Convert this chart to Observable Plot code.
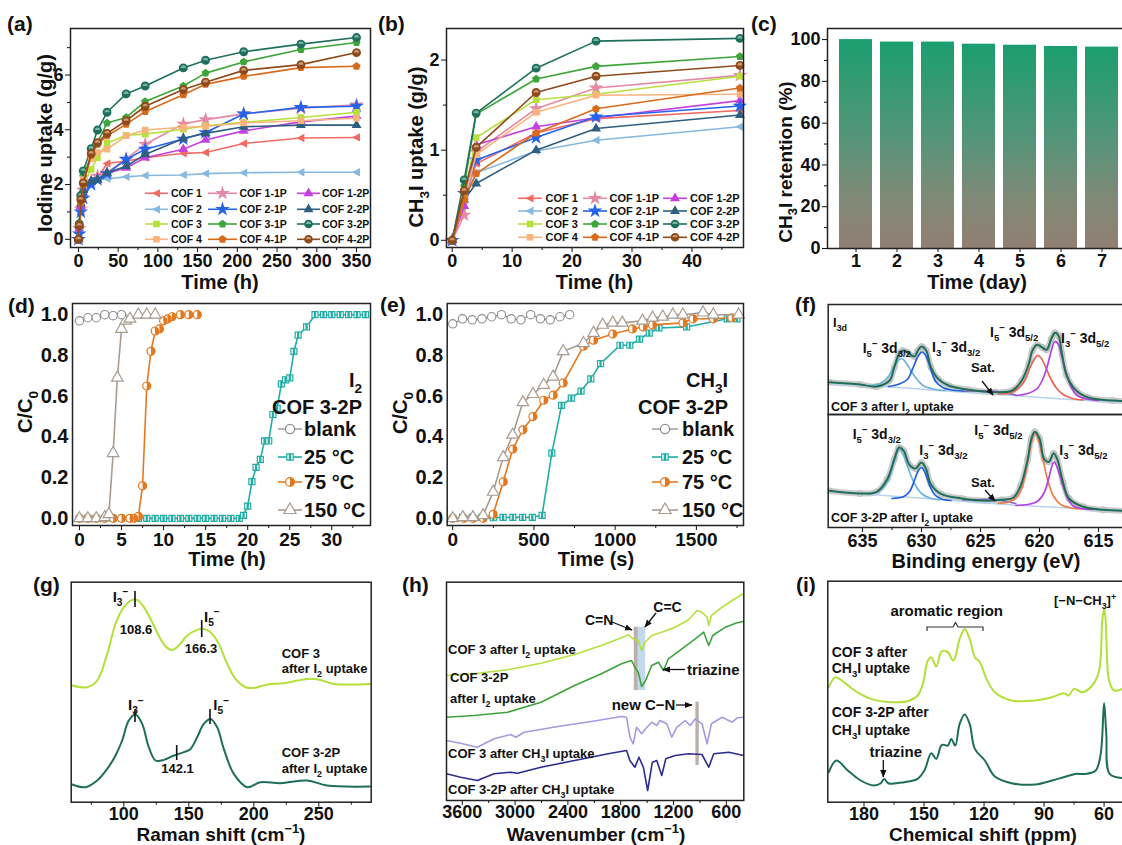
<!DOCTYPE html>
<html><head><meta charset="utf-8">
<script src="https://cdn.jsdelivr.net/npm/d3@7"></script>
<script src="https://cdn.jsdelivr.net/npm/@observablehq/plot@0.6"></script>
<style>
html,body{margin:0;padding:0;background:#fff;overflow:hidden;}
#root{position:relative;width:1122px;height:845px;overflow:hidden;background:#fff;}
#root svg{position:absolute;overflow:visible;}
text{white-space:pre;}
</style></head><body><div id="root"></div>
<script>
// ================= DATA =================
const cofNames = ["COF 1","COF 1-1P","COF 1-2P","COF 2","COF 2-1P","COF 2-2P","COF 3","COF 3-1P","COF 3-2P","COF 4","COF 4-1P","COF 4-2P"];
const cofColors = ["#f26b63","#e58aa5","#c441e0","#86b8e0","#2563eb","#2e5e80","#b7e03d","#3ea53b","#1f6f5c","#f9b47d","#d86a1c","#8f4a1c"];
const cofLight  = ["#f26b63","#e58aa5","#c441e0","#86b8e0","#2563eb","#2e5e80","#b7e03d","#3ea53b","#79b5a3","#f9b47d","#d86a1c","#c99a72"];
const cofSymbols = ["triLeft","star","triangle","triLeft","star","triangle","square","pentagon","circleHalf","square","pentagon","circleHalf"];

// (a) iodine uptake vs time (h)
const iodineTime = [0,1,3,6,16,24,36,60,84,132,160,208,280,350];
const iodCOF1   = [0,0.4,1.2,1.7,2.12,2.25,2.77,2.86,2.98,3.14,3.17,3.5,3.7,3.72];
const iodCOF1_1P= [0,0.4,1.1,1.8,2.12,2.31,2.43,2.94,3.47,4.21,4.37,4.58,4.79,4.91];
const iodCOF1_2P= [0,0.4,1.2,1.7,2.09,2.16,2.4,2.61,2.98,3.29,3.63,3.96,4.29,4.5];
const iodCOF2   = [0,0.5,1.5,1.9,2.09,2.16,2.21,2.28,2.33,2.35,2.4,2.43,2.45,2.45];
const iodCOF2_1P= [0,0.2,1.0,1.5,2.0,2.18,2.4,2.92,3.29,3.66,3.9,4.58,4.82,4.86];
const iodCOF2_2P= [0,0.5,1.3,1.8,2.12,2.18,2.43,2.67,3.1,3.68,3.87,4.11,4.17,4.17];
const iodCOF3   = [0,0.5,1.4,2.0,2.55,2.98,3.51,3.8,3.84,4.02,4.15,4.27,4.45,4.64];
const iodCOF3_1P= [0,0.6,1.5,2.3,3.04,3.53,4.25,4.45,5.03,5.6,6.07,6.48,6.93,7.19];
const iodCOF3_2P= [0,0.55,1.6,2.5,3.31,3.99,4.64,5.31,5.6,6.26,6.54,6.85,7.13,7.37];
const iodCOF4   = [0,0.5,1.4,2.18,2.94,3.17,3.29,3.78,3.99,4.09,4.12,4.25,4.33,4.42];
const iodCOF4_1P= [0,0.5,1.33,2.0,3.07,3.47,3.78,4.2,4.67,5.28,5.66,5.95,6.27,6.32];
const iodCOF4_2P= [0,0.5,1.45,2.06,3.13,3.53,3.87,4.33,4.86,5.47,5.74,6.17,6.38,6.82];
const iodineSeries = [iodCOF1,iodCOF1_1P,iodCOF1_2P,iodCOF2,iodCOF2_1P,iodCOF2_2P,iodCOF3,iodCOF3_1P,iodCOF3_2P,iodCOF4,iodCOF4_1P,iodCOF4_2P];

// (b) CH3I uptake vs time (h)
const ch3iTime = [0,2,4,14,24,48];
const mCOF1   = [0,0.45,0.85,1.19,1.35,1.44];
const mCOF1_1P= [0,0.28,0.98,1.46,1.69,1.83];
const mCOF1_2P= [0,0.38,1.06,1.26,1.36,1.55];
const mCOF2   = [0,0.45,0.75,0.99,1.11,1.26];
const mCOF2_1P= [0,0.52,0.89,1.14,1.37,1.49];
const mCOF2_2P= [0,0.45,0.63,1.0,1.24,1.39];
const mCOF3   = [0,0.5,1.14,1.56,1.62,1.82];
const mCOF3_1P= [0,0.6,1.4,1.79,1.93,2.04];
const mCOF3_2P= [0,0.67,1.41,1.91,2.21,2.24];
const mCOF4   = [0,0.45,0.95,1.42,1.61,1.62];
const mCOF4_1P= [0,0.45,0.74,1.19,1.46,1.69];
const mCOF4_2P= [0,0.55,1.03,1.64,1.82,1.94];
const ch3iSeries = [mCOF1,mCOF1_1P,mCOF1_2P,mCOF2,mCOF2_1P,mCOF2_2P,mCOF3,mCOF3_1P,mCOF3_2P,mCOF4,mCOF4_1P,mCOF4_2P];

// (c) retention
const retentionDays = [1,2,3,4,5,6,7];
const retentionPct  = [100,98.8,98.8,97.8,97.3,96.7,96.4];

// (d) I2 breakthrough
const dBlankT = [0,1,2,3,4,5];
const dBlankC = [0.97,0.985,0.985,1.0,0.995,1.0];
const d25T = [0,1,2,3,4,5,6,7,8,9,10,11,12,13,14,15,16,17,18,19,19.5,20,20.5,21,21.5,22,22.5,23,23.5,24,24.5,25,25.5,26,27,28,29,30,31,32,33,34];
const d25C = [0,0,0,0,0,0,0,0,0,0,0,0,0,0,0,0,0,0,0,0,0.015,0.06,0.18,0.25,0.29,0.38,0.38,0.51,0.54,0.66,0.68,0.69,0.82,0.9,0.94,1,1,1,1,1,1,1];
const d75T = [0,1,2,3,4,5,6,6.5,7,7.5,8,8.5,9,9.5,10,10.5,11,12,13,14];
const d75C = [0,0,0,0,0,0,0,0,0.01,0.16,0.65,0.82,0.92,0.93,0.97,0.98,0.99,1,1,1];
const d150T = [0,1,2,3,3.5,4,4.5,5,5.5,6,7,8,9];
const d150C = [0,0,0,0.005,0.02,0.32,0.69,0.93,0.97,0.98,1,1,1];

// (e) CH3I breakthrough
const eBlankT = [0,60,120,180,240,300,360,420,480,540,600,660,720];
const eBlankC = [0.955,0.98,0.975,0.98,0.99,1.0,0.98,0.975,1.0,0.98,0.975,0.99,1.0];
const e25T = [0,60,120,180,250,310,370,430,490,550,610,670,730,790,850,910,1030,1090,1150,1210,1270,1440,1690,1750];
const e25C = [0,0.005,0.005,0.005,0.003,0.005,0.005,0.005,0.005,0.015,0.32,0.555,0.59,0.625,0.685,0.76,0.85,0.85,0.88,0.91,0.935,0.94,0.98,0.98];
const e75T = [0,68,125,187,249,311,369,432,494,560,618,680,805,867,985,1106,1172,1230,1417,1479,1604,1718];
const e75C = [0,0,0,0,0.02,0.18,0.34,0.435,0.5,0.58,0.605,0.665,0.845,0.875,0.905,0.93,0.94,0.95,0.96,0.98,0.98,0.985];
const e150T = [0,62,124,187,249,311,369,432,494,560,618,680,805,867,923,985,1044,1168,1230,1293,1355,1417,1541,1604,1760];
const e150C = [0,0.005,0.005,0.015,0.13,0.30,0.41,0.57,0.61,0.655,0.695,0.82,0.86,0.91,0.95,0.96,0.96,0.97,0.985,0.99,1.0,1.0,1.01,1.0,1.0];

// (f) XPS I 3d (binding energy eV, intensity a.u.)
const fTopEnvE = [637.8,635.2,633.8,632.7,632.3,631.9,631.6,631.2,630.6,630.3,630.0,629.6,629.2,628.6,627.7,626.0,623.8,622.3,621.5,620.9,620.6,620.2,619.8,619.4,619.0,618.7,618.4,618.1,617.7,616.9,615.8,613.8,612.7];
const fTopEnvI = [32.3,30,28,34,47.3,60.7,64,62.3,58,64,68,64,47.3,35.7,29,24.7,22.3,24,34,50.7,64,69.7,67.3,64.7,75.7,81.7,79,60.7,39,24,16.7,14,13.3];
const fTopBgE = [637.8,632,628,624,620,616,612.7];
const fTopBgI = [30.7,27,23.5,20.5,17,14,12.3];
const fTopI5a_E = [634.5,633.5,632.8,632.3,631.9,631.6,631.2,630.8,630.3,629.8,629,628];
const fTopI5a_I = [29,31,38,48,55,55.5,50,42,34,28.5,25.5,24];
const fTopI3a_E = [632.8,632,631.2,630.7,630.3,629.95,629.6,629.2,628.8,628.2,627.5,626.5];
const fTopI3a_I = [28,30,35,47,58,62.5,58,45,33,27,24.5,23.5];
const fTopI5b_E = [623.5,622.5,621.8,621.2,620.8,620.4,620.2,619.9,619.5,619.1,618.6,618,617.2,616.3];
const fTopI5b_I = [20.5,21.5,26,35,47,56,59,57,48,37,27,20,16,14.5];
const fTopI3b_E = [622,621,620.2,619.7,619.3,619.0,618.7,618.4,618.1,617.7,617.3,616.8,616,615];
const fTopI3b_I = [19,21,26,36,50,64,73,70,58,40,27,19,15.5,14];
const fTopSatE = [626.5,625,624,623,622];
const fTopSatI = [23.3,23.8,23.5,21.8,19.5];

const fBotEnvE = [637.8,635.2,633.8,632.9,632.3,631.9,631.5,631.0,630.5,630.0,629.6,629.2,628.3,626.6,624.6,623.2,622.2,621.6,621.0,620.7,620.4,620.0,619.6,619.2,618.8,618.5,618.0,617.5,616.3,614.6,612.7];
const fBotEnvI = [36.7,34,35.7,48.3,68.3,80,76.7,62.3,59,65,58.3,43.3,33.3,29,26.7,27.7,30,41.7,68.3,88.3,95.7,89,68.3,65.7,74.3,68.3,45,29,20.7,17.7,16.7];
const fBotBgE = [637.8,632,628,624,620,616,612.7];
const fBotBgI = [36,31,27.5,24,21,18.5,16];
const fBotI5a_E = [634.5,633.5,632.8,632.3,631.9,631.5,631.0,630.5,630,629.3,628.5];
const fBotI5a_I = [33,37,48,66,78,72,55,42,34,29.5,27.5];
const fBotI3a_E = [632.5,631.5,631,630.6,630.3,630.0,629.7,629.3,628.9,628.3,627.5];
const fBotI3a_I = [29,31,36,47,56,60,55,42,33,28.5,27];
const fBotI5b_E = [623.5,622.5,621.8,621.3,620.9,620.6,620.4,620.1,619.7,619.3,618.8,618.2,617.3,616.3];
const fBotI5b_I = [24,26,32,48,72,89,94,88,68,47,31,23,19.5,18.5];
const fBotI3b_E = [622,621,620.2,619.6,619.2,618.9,618.75,618.5,618.1,617.7,617.2,616.5,615.5];
const fBotI3b_I = [22,23,26,35,50,63,65.5,60,45,31,22,19,18];
const fBotSatE = [626.5,625,624,623,622];
const fBotSatI = [27.5,28,28.2,26.5,24];

// (g) Raman
const ramanX3  = [60.3,71.8,79.5,87.2,93.6,100,106.4,110.3,115.4,121.8,128.2,133.3,137.2,142.3,148.7,156.4,161.5,166.7,173.1,179.5,185.9,193.6,200,210.3,223.1,241,251.3,261.5,274.4,289.7];
const ramanI3  = [116.7,115,121.7,148.3,178.3,195,202.3,202.3,195,180,163.3,154.3,152.3,156.7,166.7,172.3,173.3,170,158.3,138.3,123.3,115,114.3,117.7,119,123.3,122.3,118.3,117.7,118.3];
const ramanX32 = [60.3,70.5,79.5,87.2,93.6,98.7,103.8,109,114.1,119.2,124.4,130.8,138.5,146.2,151.3,156.4,161.5,166.7,171.8,176.9,184.6,194.9,205.1,220.5,241,256.4,289.7];
const ramanI32 = [17.7,15,21.7,33.3,46.7,61.7,81.7,87.7,78.3,55,41.7,42.3,46.7,50,53.3,65,78.3,83.3,75,53.3,28.3,15,20,19,21.7,16.7,15.7];

// (h) FTIR
const ftirXa = [3779,3467,3086,2705,2324,2020,1791,1715,1658,1601,1562,1524,1448,1334,1182,1029,934,877,819,800,770,648,534,405];
const ftirYa = [125,126.7,130.7,137.3,146,155,162.7,165.7,161.7,160,150,158.3,165,168.3,173.3,180.7,190,188.3,183.3,175,185,193.3,200,207];
const ftirXb = [3779,3467,3086,2705,2324,2020,1791,1677,1639,1601,1562,1517,1448,1372,1315,1258,1105,953,858,800,755,610,496,405];
const ftirYb = [83.3,85,88.3,98.3,115,126.7,136.7,140,133.3,128.3,114,120,135,138.3,130,141.7,151.7,161.7,168.3,155,165,173.3,177.3,179.3];
const ftirXc = [3779,3619,3429,3239,3048,2991,2896,2515,2134,1791,1734,1696,1658,1620,1562,1517,1448,1391,1353,1277,1220,1162,1067,1010,953,877,819,770,648,534,477,405];
const ftirYc = [60,57.3,53.3,61.7,66,63.3,68.3,74,79,84,83.3,63.3,56.7,73.3,66.7,71.7,78.3,75,80,76.7,63.3,73.3,80,75,81.7,76.7,56.7,76.7,83.3,78.3,82.7,83.3];
const ftirXd = [3779,3619,3429,3239,3048,2972,2705,2324,1943,1734,1696,1639,1593,1543,1494,1441,1391,1334,1288,1182,1029,877,800,743,572,405];
const ftirYd = [26.7,23.3,20,26.7,28.3,27.3,33.3,40,46.7,50,40,33.3,43.3,33.3,10,38.3,40,25,41.7,45,46.7,46,33.3,46.7,48.3,45];
const ftirBandLo = [1600,1517,908];
const ftirBandHi = [1646,1600,946];
const ftirBandBot = [110,110,35];
const ftirBandTop = [173.3,173.3,98.3];
const ftirBandCol = ["#b3a7a1","#bcd5ee","#b3a7a1"];

// (i) 13C NMR
const nmrX3  = [197.6,194.3,190.1,183.4,176.6,166.6,158.2,153.2,150.6,148.1,146.4,143.9,141.1,138.1,135.5,134.4,132.2,129.7,127.2,124.6,122.1,118.8,114.6,106.2,94.4,86,80.2,77.7,75.1,70.9,65.9,62.5,60.9,60,59.2,57.5,55,50.8];
const nmrI3  = [115,125,120,110,103.3,100,101,106.7,118.3,141.7,145,135.7,151,150,141.7,145,163.3,173.3,163.3,145,140,123.3,110,101.7,101.7,105,109,106.7,113.3,110,116.7,131.7,181.7,193.3,181.7,121.7,111.7,113.3];
const nmrX32 = [197.6,193.8,188.4,181.7,175,171.6,169.9,167.9,159.9,153.2,149.8,146.4,143.9,141.1,138.1,136.4,134.4,132.2,129.7,127.2,124.6,119.6,114.6,106.2,94.4,86,80.2,74.3,69.3,64.2,61.7,60,58.9,57.2,50.8];
const nmrI32 = [30,41.7,32.3,21.7,16.7,19,23.3,19,20,23.3,31.7,49,43.3,57.3,56.7,63.3,56.7,78.3,87.7,78.3,53.3,41.7,25.7,19,17.7,21.7,25,28.3,28.3,31.7,48.3,99,68.3,28.3,24.3];

// tick labels
const aXT = [0,50,100,150,200,250,300,350], aXm = [25,75,125,175,225,275,325];
const aYT = [0,2,4,6], aYm = [1,3,5,7];
const bXT = [0,10,20,30,40], bXm = [5,15,25,35,45];
const bYT = [0,1,2], bYm = [0.5,1.5];
const cYT = [0,20,40,60,80,100], cYm = [10,30,50,70,90];
const dXT = [0,5,10,15,20,25,30], dXm = [2.5,7.5,12.5,17.5,22.5,27.5,32.5];
const ccYT = [0,0.2,0.4,0.6,0.8,1.0], ccYm = [0.1,0.3,0.5,0.7,0.9];
const eXT = [0,500,1000,1500], eXm = [250,750,1250,1750];
const fXT = [635,630,625,620,615], fXm = [632.5,627.5,622.5,617.5];
const gXT = [100,150,200,250], gXm = [75,125,175,225,275];
const hXT = [3600,3000,2400,1800,1200,600], hXm = [3300,2700,2100,1500,900];
const iXT = [180,150,120,90,60], iXm = [165,135,105,75];

// ================= HELPERS =================
const FONT = '"Liberation Sans", Arial, Helvetica, sans-serif';
const baseStyle = {fontFamily: FONT, fontWeight: "bold", fontSize: "18px", color: "#111", background: "transparent", overflow: "visible"};
const root = document.getElementById("root");
const intFmt = d3.format("d"), oneFmt = d3.format(".1f");
function place(svg, x, y){ svg.style.position = "absolute"; svg.style.left = x + "px"; svg.style.top = y + "px"; root.appendChild(svg); return svg; }
const rows = (xs, ys) => xs.map((x, i) => ({x, y: ys[i]}));

const rad = s => Math.sqrt(s / Math.PI);
const SYM = {
  triLeft: {draw(c, s){ const r = rad(s) * 1.25; c.moveTo(-r, 0); c.lineTo(r * 0.75, -r * 0.9); c.lineTo(r * 0.75, r * 0.9); c.closePath(); }},
  pentagon: {draw(c, s){ const r = rad(s) * 1.15; for (let i = 0; i < 5; i++){ const a = -Math.PI / 2 + i * 2 * Math.PI / 5; if (i) c.lineTo(r * Math.cos(a), r * Math.sin(a)); else c.moveTo(r * Math.cos(a), r * Math.sin(a)); } c.closePath(); }},
  star: d3.symbolStar, triangle: d3.symbolTriangle, square: d3.symbolSquare,
  circleHalf: d3.symbolCircle, circle: d3.symbolCircle
};
const symTopHalf = {draw(c, s){ const r = rad(s); c.moveTo(-r, 0); c.arc(0, 0, r, Math.PI, 2 * Math.PI); c.closePath(); }};
const symRightHalf = {draw(c, s){ const r = rad(s); c.moveTo(0, -r); c.arc(0, 0, r, -Math.PI / 2, Math.PI / 2); c.closePath(); }};
const symVBar = {draw(c, s){ const r = rad(s) * 0.88; c.rect(-r * 0.38, -r, r * 0.76, 2 * r); }};

function xAxes(major, minor, o = {}){
  return [Plot.axisX({ticks: major, tickSize: 5, tickPadding: o.tp ?? 2, label: null, tickFormat: o.fmt || intFmt, fontSize: o.fs}),
          Plot.axisX({ticks: minor, tickSize: 3, tickFormat: () => "", label: null})];
}
function yAxes(major, minor, o = {}){
  return [Plot.axisY({ticks: major, tickSize: o.ts ?? 5, tickPadding: o.tp ?? 2, label: null, tickFormat: o.fmt || intFmt, fontSize: o.fs}),
          Plot.axisY({ticks: minor, tickSize: o.mts ?? 3, tickFormat: () => "", label: null})];
}
const frame = () => Plot.frame({stroke: "#222", strokeWidth: 1.5});

function cofMarks(times, series){
  const m = [];
  series.forEach((vals, i) => {
    const r = rows(times, vals), c = cofColors[i], s = cofSymbols[i];
    m.push(Plot.line(r, {x: "x", y: "y", stroke: c, strokeWidth: 1.6}));
    m.push(Plot.dot(r, {x: "x", y: "y", symbol: SYM[s], fill: c, stroke: s === "circleHalf" ? c : "none", r: s === "star" ? 4.6 : 3.7}));
    if (s === "circleHalf") m.push(Plot.dot(r, {x: "x", y: "y", symbol: symTopHalf, fill: cofLight[i], r: 2.6}));
  });
  return m;
}

// ================= (a) =================
place(Plot.plot({
  width: 375, height: 295, marginLeft: 70, marginRight: 5, marginTop: 28, marginBottom: 48,
  style: baseStyle, x: {domain: [-10, 367.6]}, y: {domain: [-0.3, 7.7]},
  marks: [...xAxes(aXT, aXm), ...yAxes(aYT, aYm), ...cofMarks(iodineTime, iodineSeries), frame()]
}), 0, 0);

// ================= (b) =================
place(Plot.plot({
  width: 372, height: 295, marginLeft: 71, marginRight: 4, marginTop: 28, marginBottom: 48,
  style: baseStyle, x: {domain: [-0.95, 48.6]}, y: {domain: [-0.08, 2.35]},
  marks: [...xAxes(bXT, bXm), ...yAxes(bYT, bYm), ...cofMarks(ch3iTime, ch3iSeries), frame()]
}), 375, 0);

// ================= (c) =================
const plotC = Plot.plot({
  width: 382, height: 295, marginLeft: 80, marginRight: 0, marginTop: 28, marginBottom: 47,
  style: baseStyle,
  x: {type: "band", domain: retentionDays, paddingInner: 0.2, paddingOuter: 0.22},
  y: {domain: [0, 105.3]},
  marks: [
    Plot.axisX({tickSize: 4, tickPadding: 2, label: null}),
    ...yAxes(cYT, cYm),
    Plot.barY(retentionDays.map((d, i) => ({d, v: retentionPct[i]})), {x: "d", y: "v", fill: "url(#retGrad)"}),
    frame()
  ]
});
d3.select(plotC).insert("defs", ":first-child").html(
  '<linearGradient id="retGrad" x1="0" y1="0" x2="0" y2="1">' +
  '<stop offset="0%" stop-color="#1b9e6f"/><stop offset="45%" stop-color="#52957a"/>' +
  '<stop offset="75%" stop-color="#7f8a76"/><stop offset="100%" stop-color="#927f74"/></linearGradient>');
place(plotC, 747, 0);

// ================= (d) & (e) =================
const cBlank = "#8d8d8d", c25 = "#21ada4", c75 = "#e5781f", c150 = "#a89b90";
function btMarks(sets){
  const m = [];
  for (const [T, C, kind] of sets){
    const r = rows(T, C);
    if (kind === "25"){
      m.push(Plot.line(r, {x: "x", y: "y", stroke: c25, strokeWidth: 1.6}));
      m.push(Plot.dot(r, {x: "x", y: "y", symbol: "square", fill: "white", stroke: c25, strokeWidth: 1.2, r: 3.4}));
      m.push(Plot.dot(r, {x: "x", y: "y", symbol: symVBar, fill: c25, r: 3.4}));
    } else if (kind === "75"){
      m.push(Plot.line(r, {x: "x", y: "y", stroke: c75, strokeWidth: 1.6}));
      m.push(Plot.dot(r, {x: "x", y: "y", symbol: "circle", fill: "white", stroke: c75, strokeWidth: 1.2, r: 4}));
      m.push(Plot.dot(r, {x: "x", y: "y", symbol: symRightHalf, fill: c75, r: 4}));
    } else if (kind === "150"){
      m.push(Plot.line(r, {x: "x", y: "y", stroke: c150, strokeWidth: 1.6}));
      m.push(Plot.dot(r, {x: "x", y: "y", symbol: "triangle", fill: "white", stroke: c150, strokeWidth: 1.2, r: 4.3}));
    } else {
      m.push(Plot.line(r, {x: "x", y: "y", stroke: cBlank, strokeWidth: 1.3}));
      m.push(Plot.dot(r, {x: "x", y: "y", symbol: "circle", fill: "white", stroke: cBlank, strokeWidth: 1.1, r: 4.2}));
    }
  }
  return m;
}
place(Plot.plot({
  width: 375, height: 280, marginLeft: 72, marginRight: 5, marginTop: 13, marginBottom: 45,
  style: baseStyle, x: {domain: [-0.83, 34.6]}, y: {domain: [-0.035, 1.055]},
  marks: [...xAxes(dXT, dXm, {fs: 19}), ...yAxes(ccYT, ccYm, {fmt: oneFmt, ts: 0, tp: 4, mts: 0, fs: 20}),
    ...btMarks([[d25T, d25C, "25"], [d75T, d75C, "75"], [d150T, d150C, "150"], [dBlankT, dBlankC, "blank"]]), frame()]
}), 0, 290);
place(Plot.plot({
  width: 372, height: 280, marginLeft: 71.7, marginRight: 4, marginTop: 13, marginBottom: 45,
  style: baseStyle, x: {domain: [-34, 1790]}, y: {domain: [-0.035, 1.055]},
  marks: [...xAxes(eXT, eXm, {fs: 19}), ...yAxes(ccYT, ccYm, {fmt: oneFmt, ts: 0, tp: 4, mts: 0, fs: 20}),
    ...btMarks([[e25T, e25C, "25"], [e75T, e75C, "75"], [e150T, e150C, "150"], [eBlankT, eBlankC, "blank"]]), frame()]
}), 375, 290);

// ================= (f) =================
function xpsMarks(env, bg, c1, c2, c3, c4, sat, c3col){
  const L = (d, stroke, w) => Plot.line(rows(d[0], d[1]), {x: "x", y: "y", stroke, strokeWidth: w, curve: "catmull-rom", clip: true});
  return [
    L(env, "#cdcdcd", 6),
    Plot.dot(rows(env[0], env[1]), {x: "x", y: "y", r: 3, stroke: "#b4b4b4", fill: "none", strokeWidth: 0.8, clip: true}),
    L(bg, "#b9d3ee", 1.5),
    L(sat, "#8a62c8", 1.4),
    L(c1, "#6db3dc", 1.7), L(c2, "#1f5fe0", 1.7), L(c3, c3col, 1.7), L(c4, "#b440e0", 1.7),
    L(env, "#1e6e58", 2)
  ];
}
place(Plot.plot({
  width: 377, height: 124, marginLeft: 80.7, marginRight: 0, marginTop: 14, marginBottom: 0,
  style: baseStyle, x: {domain: [637.9, 612.8], axis: null}, y: {domain: [0, 110], axis: null},
  marks: [...xpsMarks([fTopEnvE, fTopEnvI], [fTopBgE, fTopBgI], [fTopI5a_E, fTopI5a_I], [fTopI3a_E, fTopI3a_I], [fTopI5b_E, fTopI5b_I], [fTopI3b_E, fTopI3b_I], [fTopSatE, fTopSatI], "#f0614f"), frame()]
}), 747, 290);
place(Plot.plot({
  width: 377, height: 160, marginLeft: 80.7, marginRight: 0, marginTop: 0, marginBottom: 47,
  style: baseStyle, x: {domain: [637.9, 612.8]}, y: {domain: [0, 113], axis: null},
  marks: [...xAxes(fXT, fXm), ...xpsMarks([fBotEnvE, fBotEnvI], [fBotBgE, fBotBgI], [fBotI5a_E, fBotI5a_I], [fBotI3a_E, fBotI3a_I], [fBotI5b_E, fBotI5b_I], [fBotI3b_E, fBotI3b_I], [fBotSatE, fBotSatI], "#f27c48"), frame()]
}), 747, 414);

// ================= (g) =================
const cYG = "#b3df3a", cTeal = "#1f6e5a";
place(Plot.plot({
  width: 375, height: 275, marginLeft: 70.7, marginRight: 4.3, marginTop: 11.7, marginBottom: 43.3,
  style: baseStyle, x: {domain: [59.5, 290.3]}, y: {domain: [0, 220], axis: null},
  marks: [...xAxes(gXT, gXm, {tp: 0}),
    Plot.line(rows(ramanX3, ramanI3), {x: "x", y: "y", stroke: cYG, strokeWidth: 2, curve: "catmull-rom", clip: true}),
    Plot.line(rows(ramanX32, ramanI32), {x: "x", y: "y", stroke: cTeal, strokeWidth: 2, curve: "catmull-rom", clip: true}),
    frame()]
}), 0, 570);

// ================= (h) =================
place(Plot.plot({
  width: 372, height: 275, marginLeft: 71, marginRight: 3.7, marginTop: 11.7, marginBottom: 45,
  style: baseStyle, x: {domain: [3779, 402]}, y: {domain: [0, 218.3], axis: null},
  marks: [...xAxes(hXT, hXm, {tp: 0}),
    Plot.rect(ftirBandLo.map((lo, i) => ({lo, hi: ftirBandHi[i], b: ftirBandBot[i], t: ftirBandTop[i], c: ftirBandCol[i]})),
      {x1: "lo", x2: "hi", y1: "b", y2: "t", fill: d => d.c, fillOpacity: 0.9}),
    Plot.line(rows(ftirXa, ftirYa), {x: "x", y: "y", stroke: "#b5e03c", strokeWidth: 1.6, clip: true}),
    Plot.line(rows(ftirXb, ftirYb), {x: "x", y: "y", stroke: "#3fa33c", strokeWidth: 1.6, clip: true}),
    Plot.line(rows(ftirXc, ftirYc), {x: "x", y: "y", stroke: "#a29be0", strokeWidth: 1.6, clip: true}),
    Plot.line(rows(ftirXd, ftirYd), {x: "x", y: "y", stroke: "#2e2b8f", strokeWidth: 1.6, clip: true}),
    frame()]
}), 375, 570);

// ================= (i) =================
place(Plot.plot({
  width: 377, height: 275, marginLeft: 80.3, marginRight: 0, marginTop: 10.7, marginBottom: 43.3,
  style: baseStyle, x: {domain: [198.1, 49.8]}, y: {domain: [0, 221], axis: null},
  marks: [...xAxes(iXT, iXm, {tp: 0}),
    Plot.line(rows(nmrX3, nmrI3), {x: "x", y: "y", stroke: cYG, strokeWidth: 2, curve: "catmull-rom", clip: true}),
    Plot.line(rows(nmrX32, nmrI32), {x: "x", y: "y", stroke: cTeal, strokeWidth: 2, curve: "catmull-rom", clip: true}),
    frame()]
}), 747, 570);

// ================= OVERLAY (titles, legends, annotations) =================
const ov = d3.select(root).append("svg").attr("width", 1122).attr("height", 845)
  .style("left", "0px").style("top", "0px").style("pointer-events", "none");
ov.append("defs").html('<marker id="arr" viewBox="0 0 10 10" refX="9" refY="5" markerWidth="6" markerHeight="6" orient="auto"><path d="M0,1L10,5L0,9z" fill="#111"/></marker>');

function rich(x, y, parts, o = {}){
  const size = o.size || 14;
  const t = ov.append("text").attr("x", x).attr("y", y).attr("font-size", size)
    .attr("font-weight", "bold").attr("font-family", FONT)
    .attr("text-anchor", o.anchor || "start").attr("fill", o.fill || "#111");
  if (o.rotate) t.attr("transform", `rotate(${o.rotate} ${x} ${y})`);
  let cur = 0;
  (Array.isArray(parts) ? parts : [parts]).forEach(p => {
    const [s, m] = typeof p === "string" ? [p, ""] : p;
    const off = m === "sub" ? size * 0.28 : m === "sup" ? -size * 0.42 : 0;
    const ts = t.append("tspan").text(s).attr("dy", off - cur);
    if (m) ts.attr("font-size", size * 0.68);
    cur = off;
  });
  return t;
}
function arrow(x1, y1, x2, y2, w = 1.3){
  ov.append("line").attr("x1", x1).attr("y1", y1).attr("x2", x2).attr("y2", y2)
    .attr("stroke", "#111").attr("stroke-width", w).attr("marker-end", "url(#arr)");
}
function seg(x1, y1, x2, y2, w = 1.6, c = "#111"){
  ov.append("line").attr("x1", x1).attr("y1", y1).attr("x2", x2).attr("y2", y2).attr("stroke", c).attr("stroke-width", w);
}
function sym(x, y, type, r, fill, stroke, sw = 1.2){
  ov.append("path").attr("d", d3.symbol(type, Math.PI * r * r)()).attr("transform", `translate(${x},${y})`)
    .attr("fill", fill).attr("stroke", stroke || "none").attr("stroke-width", sw);
}

// panel letters
[["(a)", 7, 31], ["(b)", 378, 31], ["(c)", 751, 31], ["(d)", 8, 313], ["(e)", 380, 312], ["(f)", 795, 312],
 ["(g)", 33, 592], ["(h)", 402, 592], ["(i)", 796, 592]].forEach(([s, x, y]) => rich(x, y, s, {size: 21}));

// axis titles
rich(52, 143, "Iodine uptake (g/g)", {size: 20, anchor: "middle", rotate: -90});
rich(220, 289, "Time (h)", {size: 20, anchor: "middle"});
rich(423, 147, ["CH", ["3", "sub"], "I uptake (g/g)"], {size: 20, anchor: "middle", rotate: -90});
rich(594.5, 289, "Time (h)", {size: 20, anchor: "middle"});
rich(792, 162, ["CH", ["3", "sub"], "I retention (%)"], {size: 19, anchor: "middle", rotate: -90});
rich(977, 289, "Time (day)", {size: 20, anchor: "middle"});
rich(32, 412, ["C/C", ["0", "sub"]], {size: 20, anchor: "middle", rotate: -90});
rich(227, 566, "Time (h)", {size: 20, anchor: "middle"});
rich(407, 413, ["C/C", ["0", "sub"]], {size: 20, anchor: "middle", rotate: -90});
rich(596, 566, "Time (s)", {size: 20, anchor: "middle"});
rich(986, 568, "Binding energy (eV)", {size: 20, anchor: "middle"});
rich(221, 841, ["Raman shift (cm", ["−1", "sup"], ")"], {size: 19, anchor: "middle"});
rich(596, 841, ["Wavenumber (cm", ["−1", "sup"], ")"], {size: 19, anchor: "middle"});
rich(983, 841, "Chemical shift (ppm)", {size: 19, anchor: "middle"});

// legends (a) and (b)
function cofLegend(rowsY, cols, fs){
  cofNames.forEach((n, i) => {
    const y = rowsY[Math.floor(i / 3)], [l1, l2, mx, tx] = cols[i % 3], c = cofColors[i], s = cofSymbols[i];
    seg(l1, y, l2, y, 1.6, c);
    sym(mx, y, SYM[s], s === "star" ? 4.6 : 3.7, c, s === "circleHalf" ? c : null);
    if (s === "circleHalf") sym(mx, y, symTopHalf, 2.6, cofLight[i]);
    rich(tx, y + fs * 0.36, n, {size: fs});
  });
}
cofLegend([193.3, 209.3, 224, 239.3], [[145, 168, 156.5, 171], [208, 237, 222.5, 239.5], [297, 320, 308.5, 322]], 10.5);
cofLegend([198.3, 211, 224, 237.3], [[518, 542, 530, 545.5], [583, 607, 595, 609.5], [663, 687, 675, 690]], 11);

// legends (d) and (e)
function btLegend(l1, l2, mx, tx, right, topParts){
  rich(right, 387, topParts, {size: 20, anchor: "end"});
  rich(right, 414, "COF 3-2P", {size: 20, anchor: "end"});
  const ys = [429, 457, 482, 510];
  seg(l1, ys[0], l2, ys[0], 1.3, cBlank); sym(mx, ys[0], d3.symbolCircle, 4.6, "white", cBlank);
  seg(l1, ys[1], l2, ys[1], 1.6, c25); sym(mx, ys[1], d3.symbolSquare, 3.6, "white", c25); sym(mx, ys[1], symVBar, 3.6, c25);
  seg(l1, ys[2], l2, ys[2], 1.6, c75); sym(mx, ys[2], d3.symbolCircle, 4.4, "white", c75); sym(mx, ys[2], symRightHalf, 4.4, c75);
  seg(l1, ys[3], l2, ys[3], 1.6, c150); sym(mx, ys[3], d3.symbolTriangle, 4.5, "white", c150);
  ["blank", "25 °C", "75 °C", "150 °C"].forEach((s, i) => rich(tx, ys[i] + 7, s, {size: 20}));
}
btLegend(278, 302, 290, 304, 362, ["I", ["2", "sub"]]);
btLegend(652, 678, 665, 682, 728, ["CH", ["3", "sub"], "I"]);

// (f) annotations
const I5 = ["I", ["5", "sub"], ["−", "sup"], " 3d"], I3 = ["I", ["3", "sub"], ["−", "sup"], " 3d"];
rich(833, 327, ["I", ["3d", "sub"]], {size: 13});
rich(862.7, 353, [...I5, ["3/2", "sub"]], {size: 14});
rich(932, 351.7, [...I3, ["3/2", "sub"]], {size: 14});
rich(990, 336.7, [...I5, ["5/2", "sub"]], {size: 14});
rich(1061, 343, [...I3, ["5/2", "sub"]], {size: 14});
rich(971, 371.7, "Sat.", {size: 13});
arrow(982, 381, 993, 395);
rich(831, 411, ["COF 3 after I", ["2", "sub"], " uptake"], {size: 12.5});
rich(852.7, 438.7, [...I5, ["3/2", "sub"]], {size: 14});
rich(919.3, 454.7, [...I3, ["3/2", "sub"]], {size: 14});
rich(974.3, 435.3, [...I5, ["5/2", "sub"]], {size: 14});
rich(1059.3, 455.3, [...I3, ["5/2", "sub"]], {size: 14});
rich(971, 487, "Sat.", {size: 13});
arrow(985, 490, 995, 501);
rich(831, 522, ["COF 3-2P after I", ["2", "sub"], " uptake"], {size: 12.5});

// (g) annotations
rich(112.7, 601.7, ["I", ["3", "sub"], ["−", "sup"]], {size: 15});
seg(135, 591, 135, 607);
rich(136, 634, "108.6", {size: 13, anchor: "middle"});
rich(204, 621.7, ["I", ["5", "sub"], ["−", "sup"]], {size: 15});
seg(201.7, 620, 201.7, 637);
rich(201, 652.7, "166.3", {size: 13, anchor: "middle"});
rich(281.7, 658.3, "COF 3", {size: 13});
rich(281.7, 673, ["after I", ["2", "sub"], " uptake"], {size: 13});
rich(128, 710, ["I", ["3", "sub"], ["−", "sup"]], {size: 15});
seg(135, 710, 135, 722);
rich(213.3, 710, ["I", ["5", "sub"], ["−", "sup"]], {size: 15});
seg(210, 709, 210, 724);
seg(176.7, 745, 176.7, 760);
rich(177.5, 773.3, "142.1", {size: 13, anchor: "middle"});
rich(281.7, 756.7, "COF 3-2P", {size: 13});
rich(281.7, 773, ["after I", ["2", "sub"], " uptake"], {size: 13});

// (h) annotations
rich(585, 625, "C=N", {size: 14});
arrow(612, 622, 632, 630);
rich(653.3, 611.7, "C=C", {size: 14});
arrow(656, 613, 645, 627);
rich(687, 675, "triazine", {size: 15});
arrow(685, 669.5, 663, 669.5);
rich(611.7, 710, "new C−N", {size: 15});
arrow(676, 705, 692, 705);
rich(448, 654, ["COF 3 after I", ["2", "sub"], " uptake"], {size: 13});
rich(450, 681.7, "COF 3-2P", {size: 13});
rich(450, 703, ["after I", ["2", "sub"], " uptake"], {size: 13});
rich(448, 758, ["COF 3 after CH", ["3", "sub"], "I uptake"], {size: 13});
rich(448, 794, ["COF 3-2P after CH", ["3", "sub"], "I uptake"], {size: 13});

// (i) annotations
rich(946.7, 615.7, "aromatic region", {size: 15, anchor: "middle"});
ov.append("path").attr("d", "M927,631 L927,627 L953,627 L955.5,622.5 L958,627 L983,627 L983,631")
  .attr("fill", "none").attr("stroke", "#333").attr("stroke-width", 1.2);
rich(1054, 605, ["[−N−CH", ["3", "sub"], "]", ["+", "sup"]], {size: 13});
rich(831.7, 656.7, "COF 3 after", {size: 14});
rich(831.7, 673, ["CH", ["3", "sub"], "I uptake"], {size: 14});
rich(831.7, 716.7, "COF 3-2P after", {size: 14});
rich(831.7, 735, ["CH", ["3", "sub"], "I uptake"], {size: 14});
rich(895.8, 756.7, "triazine", {size: 15, anchor: "middle"});
arrow(883.3, 760, 883.3, 777);
</script></body></html>
